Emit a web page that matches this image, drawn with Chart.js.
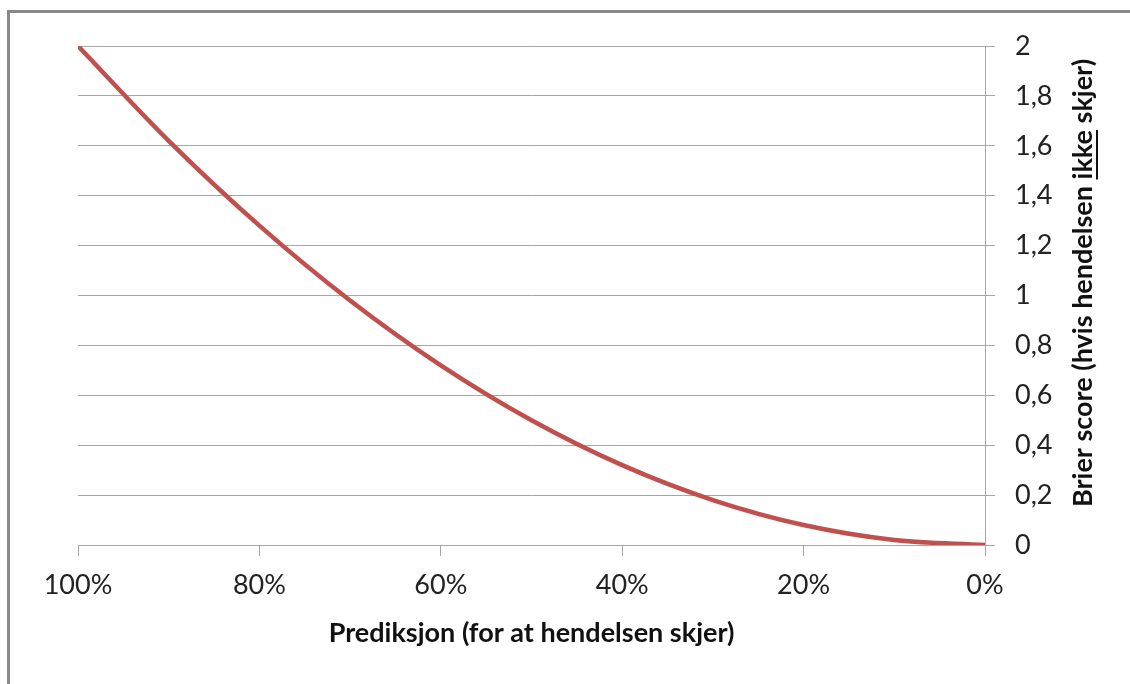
<!DOCTYPE html>
<html lang="no">
<head>
    <meta charset="UTF-8">
    <title>Brier score</title>
    <script src="https://cdn.jsdelivr.net/npm/chart.js"></script>
    <style>
        body { margin: 0; background: #fff; }
        #frame { position: absolute; left: 7px; top: 10px; width: 1200px; height: 800px;
                 border-left: 3px solid #888; border-top: 3px solid #888; }
        #wrap { position: absolute; left: 0; top: 0; width: 1130px; height: 684px; }
    </style>
</head>
<body>
    <div id="frame"></div>
    <div id="wrap"><canvas id="brier" width="1130" height="684"></canvas></div>

    <script>
        // prediksjon (%) og tilhørende Brier score, lest av figuren
        const predictions = [100, 90, 80, 70, 60, 50, 40, 30, 20, 10, 0];
        const brierScores = [2, 1.62, 1.28, 0.98, 0.72, 0.5, 0.32, 0.18, 0.08, 0.02, 0];

        const xTitle = 'Prediksjon (for at hendelsen skjer)';
        const yTitleParts = ['Brier score (hvis hendelsen ', 'ikke', ' skjer)'];

        const gridColor = '#a6a6a6';
        const lineColor = '#c0504d';

        Chart.defaults.font.family = 'Lato, "Open Sans", sans-serif';
        Chart.defaults.color = '#222';

        // y-aksetittel på høyre side, med understreket "ikke"
        const rightTitle = {
            id: 'rightTitle',
            afterDraw(chart) {
                const ctx = chart.ctx;
                ctx.save();
                ctx.font = 'bold 27px Lato, "Open Sans", sans-serif';
                ctx.fillStyle = '#111';
                ctx.strokeStyle = '#111';
                ctx.textBaseline = 'middle';
                ctx.translate(1083, 283);
                ctx.rotate(-Math.PI / 2);
                const widths = yTitleParts.map(p => ctx.measureText(p).width);
                let x = -widths.reduce((a, b) => a + b, 0) / 2;
                yTitleParts.forEach((p, i) => {
                    ctx.fillText(p, x, 0);
                    if (i === 1) {
                        ctx.lineWidth = 2;
                        ctx.beginPath();
                        ctx.moveTo(x, 14);
                        ctx.lineTo(x + widths[i], 14);
                        ctx.stroke();
                    }
                    x += widths[i];
                });
                ctx.restore();
            }
        };

        new Chart(document.getElementById('brier'), {
            type: 'line',
            data: {
                datasets: [{
                    data: predictions.map((p, i) => ({ x: p, y: brierScores[i] })),
                    borderColor: lineColor,
                    borderWidth: 4.5,
                    pointRadius: 0,
                    cubicInterpolationMode: 'monotone',
                    fill: false
                }]
            },
            options: {
                responsive: false,
                animation: false,
                layout: { padding: { left: 78, top: 46, right: 0, bottom: 0 } },
                plugins: { legend: { display: false }, tooltip: { enabled: false } },
                scales: {
                    x: {
                        type: 'linear',
                        reverse: true,
                        min: 0, max: 100,
                        grid: { drawOnChartArea: false, drawTicks: true, tickLength: 11, color: gridColor },
                        border: { display: true, color: gridColor },
                        ticks: { stepSize: 20, padding: 13, font: { size: 27 }, callback: v => v + '%' },
                        title: { display: true, text: xTitle, font: { size: 27, weight: 'bold' }, color: '#111',
                                 padding: { top: 0, bottom: 35 } },
                        afterFit(scale) { scale.height = 139; }
                    },
                    y: {
                        position: 'right',
                        min: 0, max: 2,
                        grid: { color: gridColor, tickLength: 10 },
                        border: { display: true, color: gridColor },
                        ticks: { stepSize: 0.2, padding: 20, font: { size: 27 },
                                 callback: v => String(Math.round(v * 10) / 10).replace('.', ',') },
                        afterFit(scale) { scale.width = 145; }
                    }
                }
            },
            plugins: [rightTitle]
        });
    </script>
</body>
</html>
